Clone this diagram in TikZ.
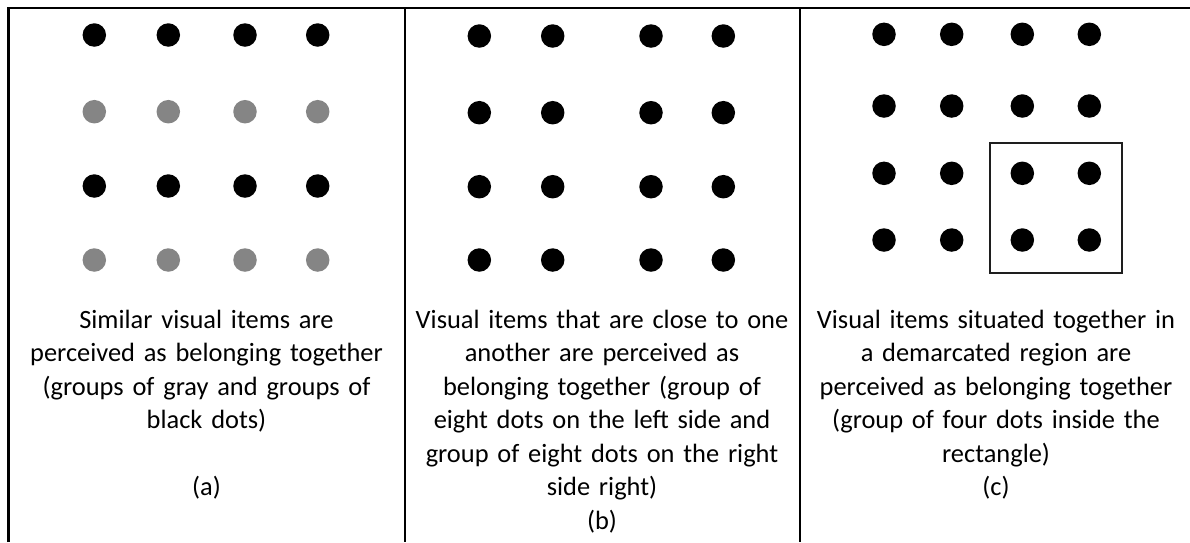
\documentclass[tikz,border=0pt]{standalone}
\usepackage{fontspec}
\setmainfont{Carlito}
\definecolor{dotgray}{RGB}{133,133,133}
\definecolor{boxline}{RGB}{30,30,30}
\begin{document}
\begin{tikzpicture}[x=1pt,y=-1pt,
  blackdot/.style={circle,fill=black,inner sep=0pt,minimum size=23.5pt},
  graydot/.style={circle,fill=dotgray,inner sep=0pt,minimum size=23.5pt},
  frameline/.style={line width=2.8pt,black},
  caption/.style={text width=392pt,align=center,inner sep=0pt,anchor=base,
    font=\fontsize{26.4}{33.5}\selectfont}]
\useasboundingbox (0,0) rectangle (1190,542);
\fill[white] (0,0) rectangle (1190,542);
% frame
\draw[frameline] (8.5,542) -- (8.5,8) -- (1190,8);
\draw[frameline] (405,8) -- (405,542);
\draw[frameline] (800,8) -- (800,542);
% panel a
\foreach \c/\x in {1/94.3,2/168.3,3/245,4/317.7}{
  \node[blackdot] (a1\c) at (\x,35) {};
  \node[graydot]  (a2\c) at (\x,111.7) {};
  \node[blackdot] (a3\c) at (\x,186) {};
  \node[graydot]  (a4\c) at (\x,260) {};
}
% panel b
\foreach \c/\x in {1/479.3,2/552.7,3/651,4/723.3}{
  \foreach \r/\y in {1/36,2/112.7,3/186.7,4/260}{
    \node[blackdot] (b\r\c) at (\x,\y) {};
  }
}
% panel c
\foreach \c/\x in {1/884,2/951.7,3/1022.3,4/1089.3}{
  \foreach \r/\y in {1/34.3,2/106,3/173.3,4/240}{
    \node[blackdot] (c\r\c) at (\x,\y) {};
  }
}
\draw[boxline,line width=2.2pt] (990,142.7) rectangle (1121.7,272.7);
% captions
\node[caption] (capa) at (206.5,328) {Similar visual items are\\ perceived as belonging together\\ (groups of gray and groups of\\ black dots)\\[33.5pt] (a)};
\node[caption] (capb) at (602,328) {Visual items that are close to one\\ another are perceived as\\ belonging together (group of\\ eight dots on the left side and\\ group of eight dots on the right\\ side right)\\ (b)};
\node[caption] (capc) at (996,328) {Visual items situated together in\\ a demarcated region are\\ perceived as belonging together\\ (group of four dots inside the\\ rectangle)\\ (c)};
\end{tikzpicture}
\end{document}
